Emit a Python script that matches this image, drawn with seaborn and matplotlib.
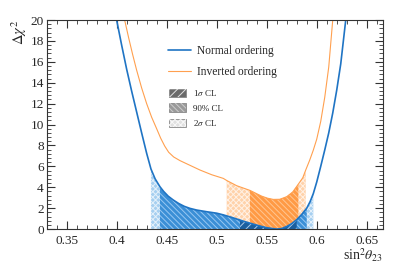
import numpy as np
import pandas as pd
import seaborn as sns
import matplotlib.pyplot as plt
from matplotlib.patches import Patch
from matplotlib.lines import Line2D
from matplotlib.ticker import MultipleLocator

# Delta chi^2 profiles
no_x = [0.398, 0.400, 0.405, 0.410, 0.415, 0.420, 0.425, 0.430, 0.4343, 0.4385,
        0.4433, 0.447, 0.4515, 0.4566, 0.462, 0.4675, 0.4733, 0.480, 0.490, 0.500,
        0.5066, 0.515, 0.5233, 0.530, 0.535, 0.540, 0.545, 0.550, 0.5566, 0.560,
        0.565, 0.570, 0.575, 0.580, 0.585, 0.590, 0.5935, 0.5966, 0.600, 0.604,
        0.608, 0.612, 0.616, 0.620, 0.624, 0.629, 0.631]
no_y = [21.0, 20.0, 17.6, 15.3, 13.2, 11.2, 9.2, 7.25, 5.75, 4.8,
        4.05, 3.6, 3.15, 2.78, 2.45, 2.18, 1.98, 1.82, 1.66, 1.52,
        1.36, 1.12, 0.86, 0.66, 0.52, 0.38, 0.25, 0.13, 0.04, 0.0,
        0.05, 0.25, 0.52, 0.90, 1.40, 2.00, 2.65, 3.40, 4.50, 6.0,
        7.56, 9.2, 11.1, 13.3, 15.8, 20.0, 21.2]

io_x = [0.406, 0.408, 0.412, 0.416, 0.420, 0.425, 0.430, 0.435, 0.440, 0.444,
        0.448, 0.452, 0.457, 0.4633, 0.4733, 0.4833, 0.495, 0.5066, 0.510, 0.520,
        0.5333, 0.545, 0.551, 0.5566, 0.563, 0.570, 0.576, 0.5816, 0.586, 0.589,
        0.593, 0.5966, 0.600, 0.604, 0.608, 0.612, 0.616, 0.618]
io_y = [21.0, 20.0, 18.3, 16.7, 15.2, 13.5, 12.0, 10.7, 9.6, 8.7,
        7.95, 7.35, 6.9, 6.55, 6.1, 5.65, 5.2, 4.85, 4.65, 4.15,
        3.7, 3.15, 2.95, 2.84, 2.85, 3.1, 3.55, 4.3, 4.9, 5.65,
        6.6, 7.56, 8.6, 10.3, 12.6, 15.5, 20.0, 21.5]

# confidence intervals (sin^2 theta23 ranges)
no_2s = (0.4343, 0.5966)
no_90 = (0.4433, 0.590)
no_1s = (0.5233, 0.580)
io_2s = (0.510, 0.589)
io_90 = (0.5333, 0.5816)

labels = ['Normal ordering', 'Inverted ordering']
cl_labels = [r'1$\sigma$ CL', '90% CL', r'2$\sigma$ CL']

sns.set_style('ticks')
plt.rcParams['font.family'] = ['Liberation Serif', 'DejaVu Serif']
plt.rcParams['mathtext.fontset'] = 'stix'
plt.rcParams['hatch.linewidth'] = 0.7

blue = '#1f74c4'
orange = '#ffa04f'

fig = plt.figure(figsize=(3.95, 2.67), dpi=100)
ax = fig.add_axes([0.118, 0.142, 0.851, 0.783])

nx = np.array(no_x)
ny = np.array(no_y)
ix = np.array(io_x)
iy = np.array(io_y)


def band(x, y, rng, face, hatch, hcol):
    m = (x >= rng[0] - 1e-9) & (x <= rng[1] + 1e-9)
    ax.fill_between(x, 0, y, where=m, facecolor=face, edgecolor='none', lw=0)
    ax.fill_between(x, 0, y, where=m, facecolor='none', edgecolor=hcol,
                    hatch=hatch, lw=0)


# inverted ordering bands first, normal ordering drawn on top
band(ix, iy, io_2s, '#ffd2aa', 'xxxxxx', (1, 1, 1, 0.7))
band(ix, iy, io_90, '#ff9a45', '\\\\\\\\\\\\', (1, 0.85, 0.7, 0.7))
band(nx, ny, no_2s, '#a6cff0', 'xxxxxx', (1, 1, 1, 0.7))
band(nx, ny, no_90, '#3b8fd6', '\\\\\\\\\\\\', (0.75, 0.88, 1, 0.7))
band(nx, ny, no_1s, '#1b5f9f', '////', (0.8, 0.9, 1, 0.8))

df = pd.concat([
    pd.DataFrame({'s23': no_x, 'dchi2': no_y, 'ordering': labels[0]}),
    pd.DataFrame({'s23': io_x, 'dchi2': io_y, 'ordering': labels[1]}),
])
sns.lineplot(data=df, x='s23', y='dchi2', hue='ordering', palette=[blue, orange],
             sort=False, estimator=None, lw=1.0, legend=False, ax=ax)
for l, w in zip(ax.lines, [1.2, 0.8]):
    l.set_linewidth(w)

ax.set_xlim(0.33, 0.666)
ax.set_ylim(0, 20)
ax.xaxis.set_major_locator(MultipleLocator(0.05))
ax.xaxis.set_minor_locator(MultipleLocator(0.01))
ax.yaxis.set_major_locator(MultipleLocator(2))
ax.yaxis.set_minor_locator(MultipleLocator(0.4))
ax.set_xticks([0.35, 0.4, 0.45, 0.5, 0.55, 0.6, 0.65])
ax.set_xticklabels(['0.35', '0.4', '0.45', '0.5', '0.55', '0.6', '0.65'])
ax.tick_params(which='both', direction='in', top=True, right=True,
               labelsize=9.5, color='#333333')
ax.tick_params(which='major', length=5.5, width=0.8)
ax.tick_params(which='minor', length=3, width=0.6)
ax.tick_params(axis='x', pad=4)
ax.tick_params(axis='y', pad=2)
for s in ax.spines.values():
    s.set_linewidth(0.8)
    s.set_color('#333333')

ax.set_xlabel(r'sin$^2\theta_{23}$', fontsize=10, loc='right', labelpad=0)
ax.set_ylabel(r'$\Delta\chi^2$', fontsize=10.5, loc='top', labelpad=1)

h1 = [Line2D([], [], color=blue, lw=1.2), Line2D([], [], color=orange, lw=0.8)]
leg1 = ax.legend(h1, labels, loc='upper left', bbox_to_anchor=(0.362, 0.88),
                 frameon=False, fontsize=8.3, handlelength=2.0,
                 handletextpad=0.45, labelspacing=0.8, borderpad=0,
                 borderaxespad=0)
ax.add_artist(leg1)


def cl_handle(face, hatch, hcol):
    return (Patch(facecolor=face, edgecolor='#888888', lw=0.6),
            Patch(facecolor='none', edgecolor=hcol, hatch=hatch, lw=0))


h2 = [cl_handle('#6a6a6a', '////', (1, 1, 1, 0.8)),
      cl_handle('#9a9a9a', '\\\\\\\\\\\\', (0.85, 0.85, 0.85, 0.8)),
      cl_handle('#e0e0e0', 'xxxxxx', (1, 1, 1, 0.8))]
ax.legend(h2, cl_labels, loc='upper left', bbox_to_anchor=(0.365, 0.675),
          frameon=False, fontsize=6.5, handlelength=1.8, handleheight=1.05,
          handletextpad=0.8, labelspacing=0.6, borderpad=0, borderaxespad=0)

fig.savefig('out.png', dpi=100)
